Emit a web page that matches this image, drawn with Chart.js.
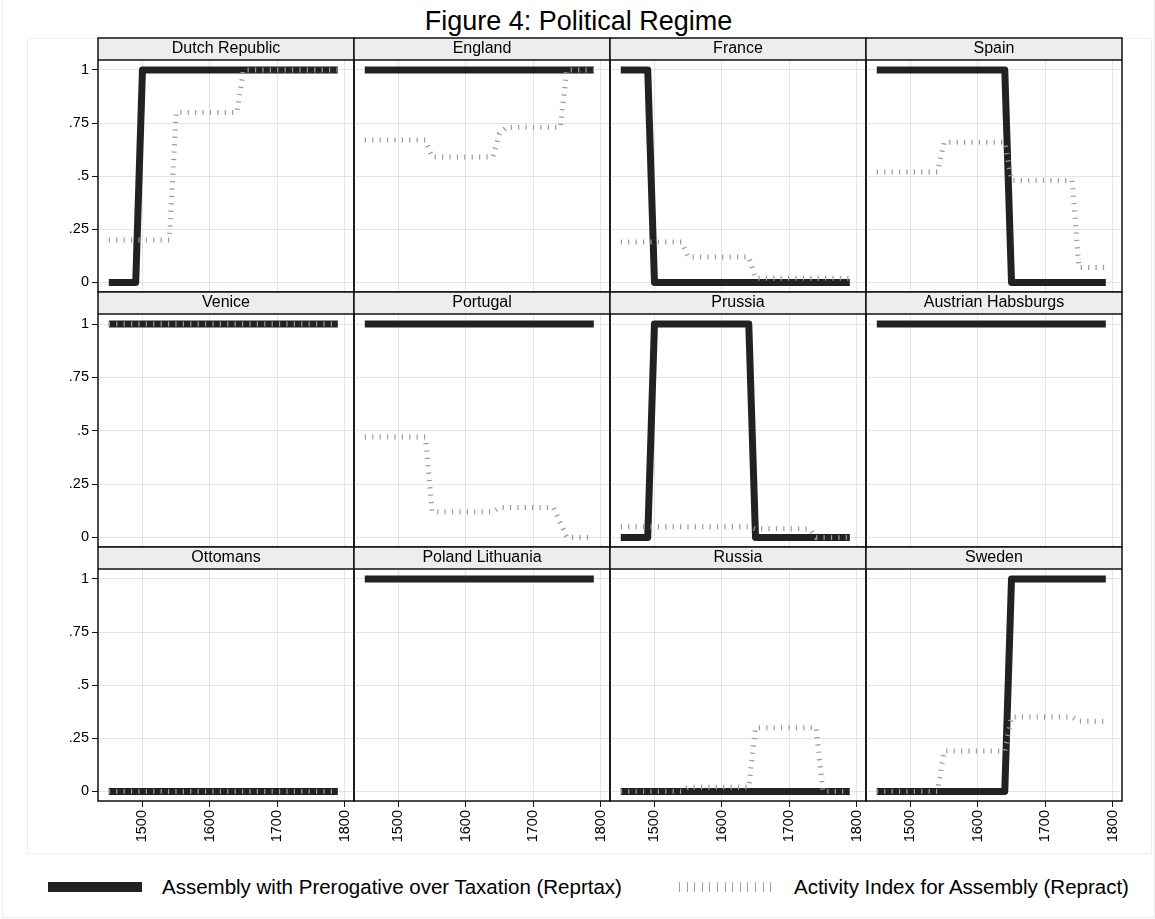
<!DOCTYPE html>
<html>
<head>
<meta charset="utf-8">
<title>Figure 4: Political Regime</title>
<script src="https://cdn.jsdelivr.net/npm/chart.js@4.4.1/dist/chart.umd.min.js"></script>
<style>
  html, body { margin: 0; padding: 0; background: #fff; }
  #page { position: relative; width: 1155px; height: 919px; overflow: hidden;
          font-family: 'Liberation Sans', Arial, sans-serif; color: #000; }
  #outer { position: absolute; left: 2px; top: -1px; width: 1153px; height: 919px;
           border: 1px solid #ececec; box-sizing: border-box; }
  #inner { position: absolute; left: 27px; top: 38px; width: 1125px; height: 816px;
           border: 1px solid #ececec; box-sizing: border-box; }
  #title { position: absolute; left: 0; top: 8px; width: 1157px; text-align: center;
           font-size: 27px; line-height: 27px; }
  .swatch { position: absolute; top: 882px; height: 10px; }
  .legtext { position: absolute; top: 875px; font-size: 20.5px; line-height: 24px; white-space: nowrap; }
  canvas { position: absolute; }
</style>
</head>
<body>
<div id="page">
  <div id="outer"></div>
  <div id="inner"></div>
  <div id="title">Figure 4: Political Regime</div>
  <div class="swatch" style="left:48px;width:94px;background:#222;"></div>
  <div class="legtext" id="leg1" style="left:162px;"></div>
  <div class="swatch" style="left:679px;width:92px;background:repeating-linear-gradient(to right,#a0a0a0 0 1px,transparent 1px 7.6px);"></div>
  <div class="legtext" id="leg2" style="left:794px;"></div>
</div>
<script>
// Data block
const years = [1450, 1460, 1470, 1480, 1490, 1500, 1510, 1520, 1530, 1540,
               1550, 1560, 1570, 1580, 1590, 1600, 1610, 1620, 1630, 1640,
               1650, 1660, 1670, 1680, 1690, 1700, 1710, 1720, 1730, 1740,
               1750, 1760, 1770, 1780, 1790];
const countries = ['Dutch Republic', 'England', 'France', 'Spain',
                   'Venice', 'Portugal', 'Prussia', 'Austrian Habsburgs',
                   'Ottomans', 'Poland Lithuania', 'Russia', 'Sweden'];
const seriesNames = ['Assembly with Prerogative over Taxation (Reprtax)',
                     'Activity Index for Assembly (Repract)'];
const xTicks = [1500, 1600, 1700, 1800];
const yTicks = [0, 0.25, 0.5, 0.75, 1];
const yTickLabels = ['0', '.25', '.5', '.75', '1'];

// Reprtax / Repract per country (1450-1790, every 10 years)
const dutchTax = [0,0,0,0,0,1,1,1,1,1, 1,1,1,1,1,1,1,1,1,1, 1,1,1,1,1,1,1,1,1,1, 1,1,1,1,1];
const dutchAct = [.2,.2,.2,.2,.2,.2,.2,.2,.2,.2, .8,.8,.8,.8,.8,.8,.8,.8,.8,.8, 1,1,1,1,1,1,1,1,1,1, 1,1,1,1,1];
const englandTax = [1,1,1,1,1,1,1,1,1,1, 1,1,1,1,1,1,1,1,1,1, 1,1,1,1,1,1,1,1,1,1, 1,1,1,1,1];
const englandAct = [.67,.67,.67,.67,.67,.67,.67,.67,.67,.67, .59,.59,.59,.59,.59,.59,.59,.59,.59,.59, .70,.73,.73,.73,.73,.73,.73,.73,.73,.73, 1,1,1,1,1];
const franceTax = [1,1,1,1,1,0,0,0,0,0, 0,0,0,0,0,0,0,0,0,0, 0,0,0,0,0,0,0,0,0,0, 0,0,0,0,0];
const franceAct = [.19,.19,.19,.19,.19,.19,.19,.19,.19,.19, .12,.12,.12,.12,.12,.12,.12,.12,.12,.12, .02,.02,.02,.02,.02,.02,.02,.02,.02,.02, .02,.02,.02,.02,.02];
const spainTax = [1,1,1,1,1,1,1,1,1,1, 1,1,1,1,1,1,1,1,1,1, 0,0,0,0,0,0,0,0,0,0, 0,0,0,0,0];
const spainAct = [.52,.52,.52,.52,.52,.52,.52,.52,.52,.52, .66,.66,.66,.66,.66,.66,.66,.66,.66,.66, .48,.48,.48,.48,.48,.48,.48,.48,.48,.48, .07,.07,.07,.07,.07];
const veniceTax = [1,1,1,1,1,1,1,1,1,1, 1,1,1,1,1,1,1,1,1,1, 1,1,1,1,1,1,1,1,1,1, 1,1,1,1,1];
const veniceAct = [1,1,1,1,1,1,1,1,1,1, 1,1,1,1,1,1,1,1,1,1, 1,1,1,1,1,1,1,1,1,1, 1,1,1,1,1];
const portugalTax = [1,1,1,1,1,1,1,1,1,1, 1,1,1,1,1,1,1,1,1,1, 1,1,1,1,1,1,1,1,1,1, 1,1,1,1,1];
const portugalAct = [.47,.47,.47,.47,.47,.47,.47,.47,.47,.47, .12,.12,.12,.12,.12,.12,.12,.12,.12,.12, .14,.14,.14,.14,.14,.14,.14,.14,.14,.07, 0,0,0,0,0];
const prussiaTax = [0,0,0,0,0,1,1,1,1,1, 1,1,1,1,1,1,1,1,1,1, 0,0,0,0,0,0,0,0,0,0, 0,0,0,0,0];
const prussiaAct = [.05,.05,.05,.05,.05,.05,.05,.05,.05,.05, .05,.05,.05,.05,.05,.05,.05,.05,.05,.05, .04,.04,.04,.04,.04,.04,.04,.04,.04,0, 0,0,0,0,0];
const austriaTax = [1,1,1,1,1,1,1,1,1,1, 1,1,1,1,1,1,1,1,1,1, 1,1,1,1,1,1,1,1,1,1, 1,1,1,1,1];
const austriaAct = [null,null,null,null,null,null,null,null,null,null, null,null,null,null,null,null,null,null,null,null, null,null,null,null,null,null,null,null,null,null, null,null,null,null,null];
const ottomanTax = [0,0,0,0,0,0,0,0,0,0, 0,0,0,0,0,0,0,0,0,0, 0,0,0,0,0,0,0,0,0,0, 0,0,0,0,0];
const ottomanAct = [0,0,0,0,0,0,0,0,0,0, 0,0,0,0,0,0,0,0,0,0, 0,0,0,0,0,0,0,0,0,0, 0,0,0,0,0];
const polandTax = [1,1,1,1,1,1,1,1,1,1, 1,1,1,1,1,1,1,1,1,1, 1,1,1,1,1,1,1,1,1,1, 1,1,1,1,1];
const polandAct = [null,null,null,null,null,null,null,null,null,null, null,null,null,null,null,null,null,null,null,null, null,null,null,null,null,null,null,null,null,null, null,null,null,null,null];
const russiaTax = [0,0,0,0,0,0,0,0,0,0, 0,0,0,0,0,0,0,0,0,0, 0,0,0,0,0,0,0,0,0,0, 0,0,0,0,0];
const russiaAct = [0,0,0,0,0,0,0,0,0,0, .02,.02,.02,.02,.02,.02,.02,.02,.02,.02, .30,.30,.30,.30,.30,.30,.30,.30,.30,.30, 0,0,0,0,0];
const swedenTax = [0,0,0,0,0,0,0,0,0,0, 0,0,0,0,0,0,0,0,0,0, 1,1,1,1,1,1,1,1,1,1, 1,1,1,1,1];
const swedenAct = [0,0,0,0,0,0,0,0,0,0, .19,.19,.19,.19,.19,.19,.19,.19,.19,.19, .35,.35,.35,.35,.35,.35,.35,.35,.35,.35, .33,.33,.33,.33,.33];

const taxSeries = [dutchTax, englandTax, franceTax, spainTax, veniceTax, portugalTax,
                   prussiaTax, austriaTax, ottomanTax, polandTax, russiaTax, swedenTax];
const actSeries = [dutchAct, englandAct, franceAct, spainAct, veniceAct, portugalAct,
                   prussiaAct, austriaAct, ottomanAct, polandAct, russiaAct, swedenAct];

// Layout block
const FONT = "'Liberation Sans', Arial, sans-serif";
const colLeft = [98, 354, 610, 866];
const colW = 256;
const rowTop = [38, 292, 547];
const plotH = [232, 233, 232];
const HEAD = 22;
const PAD = 3;
const Y_AXIS_W = 71;
const X_AXIS_H = 50;

document.getElementById('leg1').textContent = seriesNames[0];
document.getElementById('leg2').textContent = seriesNames[1];

// Stop tick labels from pushing the plot area around
function fixAxis(scale, size) {
    if (scale.isHorizontal()) scale.height = size; else scale.width = size;
    scale.paddingTop = 0;
    scale.paddingBottom = 0;
    scale.paddingLeft = 0;
    scale.paddingRight = 0;
}

// Panel frame plugin: grey header strip + black borders
const panelFrame = {
    id: 'panelFrame',
    beforeDraw(chart) {
        const a = chart.chartArea;
        const ctx = chart.ctx;
        ctx.save();
        ctx.fillStyle = '#ededed';
        ctx.fillRect(a.left, a.top - HEAD, a.right - a.left, HEAD);
        ctx.restore();
    },
    afterDraw(chart) {
        const a = chart.chartArea;
        const ctx = chart.ctx;
        ctx.save();
        ctx.strokeStyle = '#111';
        ctx.lineWidth = 1.5;
        ctx.strokeRect(a.left, a.top - HEAD, a.right - a.left, a.bottom - a.top + HEAD);
        ctx.beginPath();
        ctx.moveTo(a.left, a.top);
        ctx.lineTo(a.right, a.top);
        ctx.stroke();
        ctx.restore();
    }
};

const page = document.getElementById('page');

countries.forEach((name, i) => {
    const r = Math.floor(i / 4), c = i % 4;
    const isLeft = c === 0, isBottom = r === 2;
    const yW = isLeft ? Y_AXIS_W : 0;
    const xH = isBottom ? X_AXIS_H : 0;

    const canvas = document.createElement('canvas');
    canvas.width = yW + colW + 2 * PAD;
    canvas.height = HEAD + plotH[r] + xH + 2 * PAD;
    canvas.style.left = (colLeft[c] - yW - PAD) + 'px';
    canvas.style.top = (rowTop[r] - PAD) + 'px';
    page.appendChild(canvas);

    new Chart(canvas, {
        type: 'line',
        data: {
            datasets: [{
                label: seriesNames[0],
                data: years.map((yr, k) => ({ x: yr, y: taxSeries[i][k] })),
                borderColor: '#222',
                borderWidth: 7,
                borderJoinStyle: 'round',
                borderCapStyle: 'butt',
                pointRadius: 0,
                tension: 0,
                order: 1
            }, {
                label: seriesNames[1],
                data: years.map((yr, k) => ({ x: yr, y: actSeries[i][k] })),
                borderColor: '#9a9a9a',
                borderWidth: 5,
                borderDash: [1.2, 6.2],
                borderCapStyle: 'butt',
                pointRadius: 0,
                tension: 0,
                order: 0
            }]
        },
        options: {
            responsive: false,
            devicePixelRatio: 1,
            animation: false,
            events: [],
            layout: { padding: PAD, autoPadding: false },
            plugins: {
                legend: { display: false },
                tooltip: { enabled: false },
                title: {
                    display: true,
                    text: name,
                    fullSize: false,
                    color: '#000',
                    font: { family: FONT, size: 16, weight: 'normal', lineHeight: '16px' },
                    padding: { top: 3, bottom: 3 }
                }
            },
            scales: {
                x: {
                    type: 'linear',
                    min: 1434,
                    max: 1814,
                    afterBuildTicks: (s) => { s.ticks = xTicks.map(v => ({ value: v })); },
                    afterFit: (s) => fixAxis(s, xH),
                    ticks: {
                        display: isBottom,
                        autoSkip: false,
                        minRotation: 90,
                        maxRotation: 90,
                        padding: 3,
                        color: '#000',
                        font: { family: FONT, size: 14.5 },
                        callback: (v) => String(v)
                    },
                    grid: { color: '#e4e4e4', lineWidth: 1, drawTicks: isBottom, tickLength: 6, tickColor: '#111' },
                    border: { display: false }
                },
                y: {
                    type: 'linear',
                    min: -0.045,
                    max: 1.047,
                    afterBuildTicks: (s) => { s.ticks = yTicks.map(v => ({ value: v })); },
                    afterFit: (s) => fixAxis(s, yW),
                    ticks: {
                        display: isLeft,
                        padding: 3,
                        color: '#000',
                        font: { family: FONT, size: 14.5 },
                        callback: (v) => yTickLabels[yTicks.indexOf(v)]
                    },
                    grid: { color: '#e4e4e4', lineWidth: 1, drawTicks: isLeft, tickLength: 6, tickColor: '#111' },
                    border: { display: false }
                }
            }
        },
        plugins: [panelFrame]
    });
});
</script>
</body>
</html>
